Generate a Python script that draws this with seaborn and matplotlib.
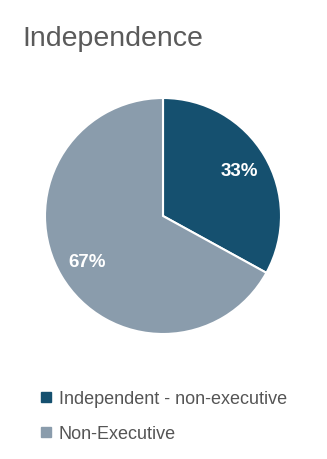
import matplotlib
matplotlib.use("Agg")
import matplotlib.pyplot as plt
from matplotlib.lines import Line2D
import seaborn as sns

categories = ["Independent - non-executive", "Non-Executive"]
values = [33, 67]
colors = ["#15506f", "#8a9cac"]
title = "Independence"

sns.set_theme(style="white")
plt.rcParams['font.family'] = ['Liberation Sans', 'DejaVu Sans']

W, H = 327, 460
fig = plt.figure(figsize=(W / 100, H / 100), dpi=100)
fig.patch.set_facecolor("white")

cx, cy, r = 163, 217, 118
ax = fig.add_axes([(cx - r) / W, (H - cy - r) / H, 2 * r / W, 2 * r / H])
wedges, texts, autotexts = ax.pie(
    values, colors=colors, startangle=90, counterclock=False,
    autopct=lambda p: f"{p:.0f}%", pctdistance=0.75,
    wedgeprops=dict(edgecolor="white", linewidth=1.5),
    textprops=dict(color="white", fontsize=13.5, fontweight="bold"),
)
ax.set_xlim(-1.0, 1.0)
ax.set_ylim(-1.0, 1.0)
ax.set_aspect("equal")
ax.axis("off")

fig.text(22 / W, 1 - 46 / H, title, fontsize=20.5, color="#5a5a5a", ha="left", va="baseline")

handles = [Line2D([0], [0], marker="s", linestyle="none", markersize=7,
                  markerfacecolor=c, markeredgecolor=c) for c in colors]
fig.legend(handles, categories, loc="upper left", bbox_to_anchor=(39 / W, 1 - 391 / H),
           frameon=False, fontsize=13, labelcolor="#555555", handlelength=0.8,
           handletextpad=0.3, labelspacing=1.0, borderaxespad=0, borderpad=0)

fig.savefig("out.png", dpi=100, facecolor="white")
